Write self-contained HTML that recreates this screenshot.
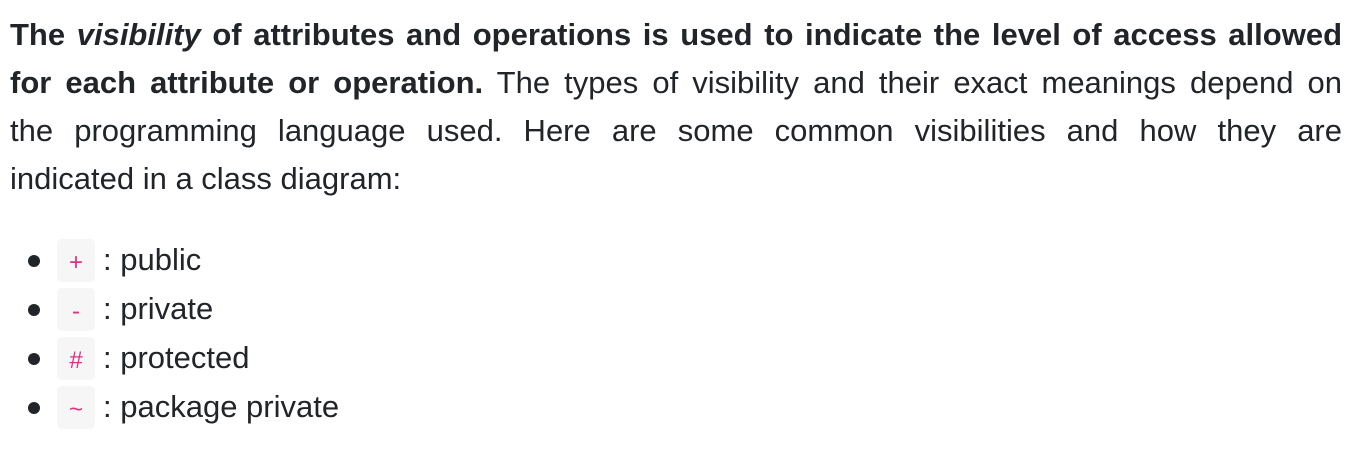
<!DOCTYPE html>
<html><head><meta charset="utf-8"><style>
html,body{margin:0;padding:0;background:#fff;width:1359px;height:458px;overflow:hidden}
body{font-family:"Liberation Sans","DejaVu Sans",sans-serif;color:#212529;font-size:31px}
.p{position:absolute;left:10px;width:1332px}
.l{height:48px;line-height:48px;text-align:justify;text-align-last:justify;white-space:nowrap}
.l.last{text-align-last:left}
.li{position:absolute;left:0;height:49px;line-height:43px}
.dot{position:absolute;left:28px;top:16px;width:12px;height:12px;border-radius:50%;background:#212529}
.code{position:absolute;left:57px;top:0;width:38px;height:43px;background:#f6f6f7;border-radius:5px;color:#d63384;font-family:"Liberation Sans",sans-serif;font-size:24px;text-align:center;line-height:47px}
.t{position:absolute;left:103px;top:-1px;white-space:nowrap}
</style></head><body>
<div class="p" style="top:11px">
<div class="l"><b>The <i>visibility</i> of attributes and operations is used to indicate the level of access allowed</b></div>
<div class="l"><b>for each attribute or operation.</b> The types of visibility and their exact meanings depend on</div>
<div class="l">the programming language used. Here are some common visibilities and how they are</div>
<div class="l last">indicated in a class diagram:</div>
</div>
<div class="li" style="top:239px"><div class="dot"></div><div class="code">+</div><div class="t">: public</div></div>
<div class="li" style="top:288px"><div class="dot"></div><div class="code">-</div><div class="t">: private</div></div>
<div class="li" style="top:337px"><div class="dot"></div><div class="code">#</div><div class="t">: protected</div></div>
<div class="li" style="top:386px"><div class="dot"></div><div class="code">~</div><div class="t">: package private</div></div>
</body></html>
